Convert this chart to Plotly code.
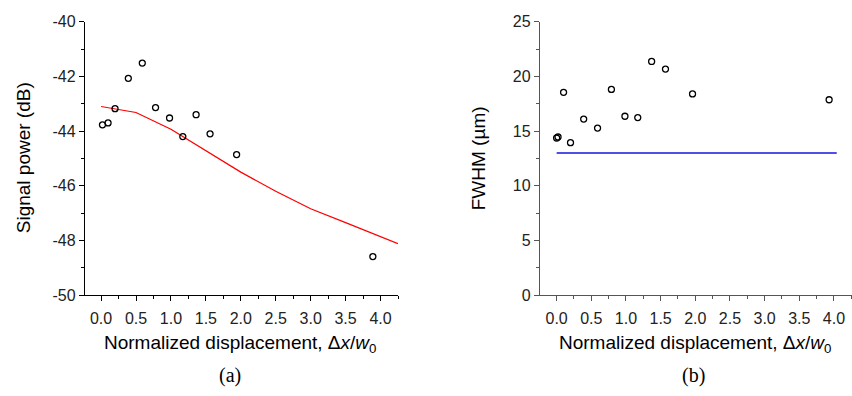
import plotly.graph_objects as go

# Panel (a): signal power
xa_meas = [0.02, 0.10, 0.20, 0.39, 0.59, 0.78, 0.98, 1.17, 1.36, 1.56, 1.94, 3.89]
ya_meas = [-43.77, -43.70, -43.18, -42.07, -41.51, -43.14, -43.52, -44.20, -43.40, -44.10, -44.86, -48.59]
xa_model = [0.0, 0.5, 1.0, 1.5, 2.0, 2.5, 3.0, 3.5, 4.0, 4.25]
ya_model = [-43.10, -43.32, -43.93, -44.70, -45.50, -46.20, -46.84, -47.35, -47.85, -48.12]
ya_ticks = [-50, -48, -46, -44, -42, -40]
ya_ticktext = ["-50", "-48", "-46", "-44", "-42", "-40"]

# Panel (b): FWHM
xb_meas = [0.0, 0.02, 0.10, 0.20, 0.39, 0.59, 0.79, 0.985, 1.17, 1.37, 1.57, 1.96, 3.93]
yb_meas = [14.37, 14.46, 18.55, 13.94, 16.10, 15.28, 18.81, 16.36, 16.24, 21.37, 20.67, 18.40, 17.87]
xb_model = [0.0, 4.04]
yb_model = [13.0, 13.0]

x_ticks = [0.0, 0.5, 1.0, 1.5, 2.0, 2.5, 3.0, 3.5, 4.0]

W, H = 852, 396
fig = go.Figure()

marker = dict(symbol="circle-open", size=6, color="black", line=dict(width=1.3, color="black"))

fig.add_trace(go.Scatter(x=xa_model, y=ya_model, mode="lines", line=dict(color="#ff0000", width=1.2),
                         xaxis="x", yaxis="y", showlegend=False))
fig.add_trace(go.Scatter(x=xa_meas, y=ya_meas, mode="markers", marker=marker,
                         xaxis="x", yaxis="y", showlegend=False))
fig.add_trace(go.Scatter(x=xb_model, y=yb_model, mode="lines", line=dict(color="#1414e0", width=1.3),
                         xaxis="x2", yaxis="y2", showlegend=False))
fig.add_trace(go.Scatter(x=xb_meas, y=yb_meas, mode="markers", marker=marker,
                         xaxis="x2", yaxis="y2", showlegend=False))

tickfont = dict(family="Liberation Sans", size=16, color="#222")
ytop = (H - 14.4) / H
ybot = (H - 300) / H


def xaxis(domain, rng, anchor, color):
    return dict(domain=domain, range=rng, anchor=anchor, showgrid=False, zeroline=False,
                showline=True, linecolor=color, linewidth=1.3, ticks="outside", ticklen=5,
                tickcolor=color, tickwidth=1, tickmode="array", tickvals=x_ticks,
                ticktext=[f"{v:.1f}" for v in x_ticks], ticklabelstandoff=4,
                tickfont=tickfont, minor=dict(ticks="outside", ticklen=3, dtick=0.25, tick0=0,
                                              tickcolor=color))


def yaxis(rng, anchor, dtick, mdtick, color):
    return dict(domain=[ybot, ytop], range=rng, anchor=anchor, showgrid=False, zeroline=False,
                showline=True, linecolor=color, linewidth=1.3, ticks="outside", ticklen=5,
                tickcolor=color, tickwidth=1, dtick=dtick, tickfont=tickfont,
                minor=dict(ticks="outside", ticklen=3, dtick=mdtick, tickcolor=color))


ya = yaxis([-50, -40], "x", 2, 1, "black")
ya.update(tickmode="array", tickvals=ya_ticks, ticktext=ya_ticktext)

fig.update_layout(
    width=W, height=H, margin=dict(l=0, r=0, t=0, b=0),
    paper_bgcolor="white", plot_bgcolor="white",
    xaxis=xaxis([85 / W, 398 / W], [-0.23, 4.25], "y", "black"),
    yaxis=ya,
    xaxis2=xaxis([540 / W, 1.0], [-0.24, 4.26], "y2", "#555"),
    yaxis2=yaxis([0, 25], "x2", 5, 2.5, "#555"),
)

tf = dict(family="Liberation Sans", size=19, color="black")
lf = dict(family="Liberation Serif", size=20, color="black")
xtitle = "Normalized displacement, Δ<i>x</i>/<i>w</i><sub>0</sub>"
ann = [
    dict(x=23 / W, y=(H - 157) / H, text="Signal power (dB)", textangle=-90, font=tf),
    dict(x=478 / W, y=(H - 157) / H, text="FWHM (µm)", textangle=-90, font=tf),
    dict(x=241 / W, y=(H - 351) / H, text=xtitle, font=tf),
    dict(x=695 / W, y=(H - 351) / H, text=xtitle, font=tf),
    dict(x=230 / W, y=(H - 384) / H, text="(a)", font=lf),
    dict(x=693 / W, y=(H - 384) / H, text="(b)", font=lf),
]
for a in ann:
    a.update(xref="paper", yref="paper", showarrow=False, xanchor="center", yanchor="middle")
fig.update_layout(annotations=ann)

fig.write_html("out.html")
